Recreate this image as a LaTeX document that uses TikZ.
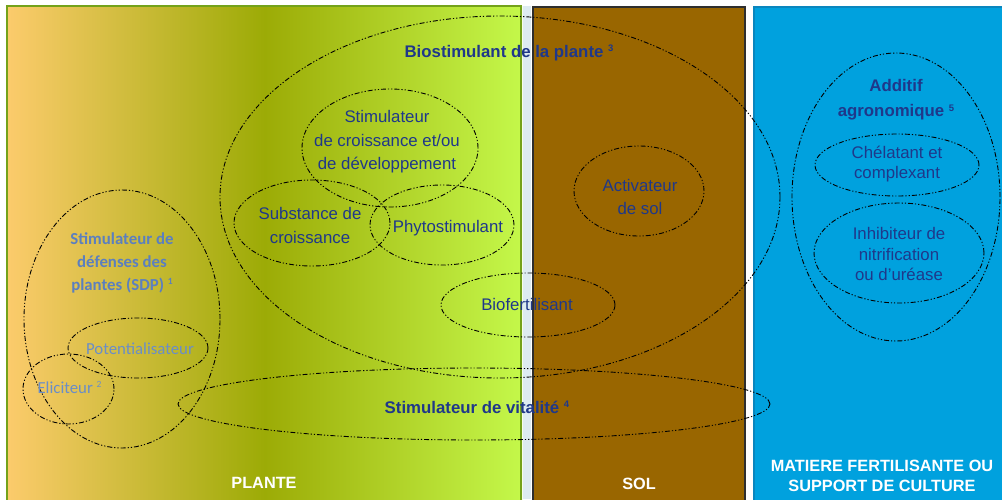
\documentclass[tikz,border=0pt]{standalone}
\usepackage{fontspec}
\setmainfont{Liberation Sans}
\newfontfamily\calfont{Carlito}
\definecolor{plL}{HTML}{FCCB6C}
\definecolor{plM}{HTML}{9CAB06}
\definecolor{plR}{HTML}{C4F84A}
\definecolor{plborder}{HTML}{74A21A}
\definecolor{stripc}{HTML}{DDEBF1}
\definecolor{solfill}{HTML}{996600}
\definecolor{solborder}{HTML}{2E2E2E}
\definecolor{bluefill}{HTML}{00A1DE}
\definecolor{blueborder}{HTML}{0A86BE}
\definecolor{txtnavy}{HTML}{1F388A}
\definecolor{sdpblue}{HTML}{5B7FBF}
\definecolor{potblue}{HTML}{6A8DC8}
\newcommand\supnum[1]{\raisebox{5.5pt}{\fontsize{9.5}{9.5}\selectfont #1}}
\tikzset{
  ell/.style={draw=black, line width=0.9pt, dash pattern=on 5pt off 2pt on 1.2pt off 2pt on 1.2pt off 2pt},
  txt/.style={text=txtnavy, align=center, inner sep=0pt, font=\fontsize{16.8}{23.5}\selectfont},
  btxt/.style={text=txtnavy, align=center, inner sep=0pt, font=\bfseries\fontsize{16.8}{25}\selectfont},
  sdp/.style={text=sdpblue, align=center, inner sep=0pt, font=\calfont\bfseries\fontsize{16.8}{23}\selectfont},
  pot/.style={text=potblue, align=center, inner sep=0pt, font=\calfont\fontsize{16.8}{20}\selectfont},
  lab/.style={text=white, align=center, inner sep=0pt, font=\bfseries\fontsize{16.3}{20}\selectfont}
}
\begin{document}
\begin{tikzpicture}[x=1pt,y=-1pt]
\useasboundingbox (0,0) rectangle (1002,499);
\fill[white] (0,0) rectangle (1002,499);
% panels
\shade[left color=plL, right color=plR, middle color=plM] (7,6) rectangle (522,499);
\draw[plborder, line width=2pt] (7,505) -- (7,6) -- (521,6) -- (521,505);
\fill[stripc] (523,6) rectangle (531,499);
\draw[fill=solfill, draw=solborder, line width=2pt] (533,7) rectangle (745,510);
\draw[fill=bluefill, draw=blueborder, line width=2pt] (754,7) rectangle (1012,510);
% ellipses
\draw[ell] (500,197) ellipse (280pt and 181pt);
\draw[ell] (390,148) ellipse (88pt and 59pt);
\draw[ell] (312,223) ellipse (78pt and 43pt);
\draw[ell] (442,225) ellipse (72pt and 40pt);
\draw[ell] (528,305) ellipse (87pt and 32pt);
\draw[ell] (474,404) ellipse (296pt and 36pt);
\draw[ell] (122,319) ellipse (98pt and 129pt);
\draw[ell] (138,348) ellipse (70pt and 30pt);
\draw[ell] (68.5,389) ellipse (45.5pt and 35pt);
\draw[ell] (639,191) ellipse (65pt and 45pt);
\draw[ell] (896,197) ellipse (104pt and 144pt);
\draw[ell] (897,165) ellipse (82pt and 31pt);
\draw[ell] (899,253) ellipse (85pt and 50pt);
% texts
\node[btxt] (bio) at (509,53) {Biostimulant de la plante \supnum{3}};
\node[txt] (stc) at (387,142) {Stimulateur\\de croissance et/ou\\de développement};
\node[txt, font=\fontsize{16.8}{24}\selectfont] (sub) at (310,225) {Substance de\\croissance};
\node[txt] (phy) at (448,228) {Phytostimulant};
\node[txt] (biof) at (527,304) {Biofertilisant};
\node[btxt] (vit) at (477,407) {Stimulateur de vitalité \supnum{4}};
\node[txt, font=\fontsize{16.8}{23}\selectfont] (act) at (640,197) {Activateur\\de sol};
\node[btxt] (add) at (896,100) {Additif\\agronomique \supnum{5}};
\node[txt, font=\fontsize{16.8}{20}\selectfont] (che) at (897,164.5) {Chélatant et\\complexant};
\node[txt, font=\fontsize{16.8}{20.5}\selectfont] (inh) at (899,254) {Inhibiteur de\\nitrification\\ou d’uréase};
\node[sdp] (sdpt) at (122,262.5) {Stimulateur de\\défenses des\\plantes (SDP) \supnum{1}};
\node[pot] (pott) at (140,349) {Potentialisateur};
\node[pot] (elit) at (69.5,387.5) {Eliciteur \supnum{2}};
\node[lab] (plante) at (264,483) {PLANTE};
\node[lab] (sol) at (639,484) {SOL};
\node[lab] (mat) at (882,475.5) {MATIERE FERTILISANTE OU\\SUPPORT DE CULTURE};
\end{tikzpicture}
\end{document}
